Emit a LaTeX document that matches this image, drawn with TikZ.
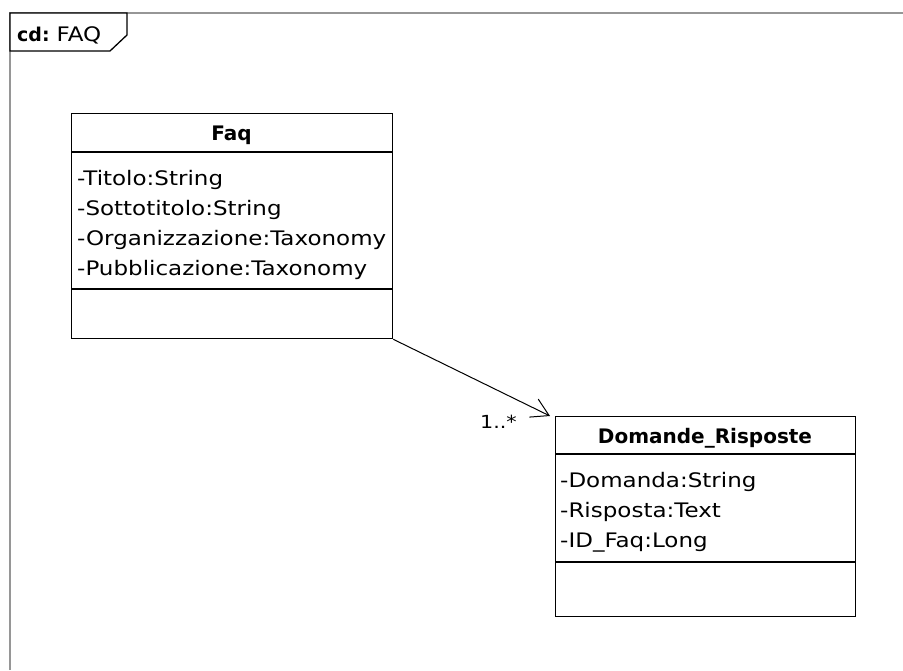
\documentclass[tikz,border=0pt]{standalone}
\usepackage{fontspec}
\setmainfont[FakeStretch=1.15]{DejaVu Sans}
\newfontfamily\titlefont{DejaVu Sans}
\usetikzlibrary{arrows.meta}
\definecolor{framegray}{RGB}{150,150,150}
\tikzset{
  classbox/.style={draw=black, line width=1.3pt, fill=white, inner sep=0pt},
  sepline/.style={draw=black, line width=1.3pt},
  attr/.style={anchor=base west, inner sep=0pt, font=\fontsize{20}{24}\selectfont},
  ctitle/.style={anchor=base, inner sep=0pt, font=\titlefont\bfseries\fontsize{20}{24}\selectfont},
  assoc/.style={draw=black, line width=1pt, -{Straight Barb[length=17pt,width=20pt,line width=1pt]}},
}
\begin{document}
\begin{tikzpicture}[x=1pt,y=-1pt]
\useasboundingbox (0,0) rectangle (903,670);
% frame
\draw[framegray, line width=1.3pt] (10,670) -- (10,13) -- (903,13);
\draw[black, line width=1.3pt, fill=white] (10,13) -- (127,13) -- (127,35) -- (110,51) -- (10,51) -- cycle;
\node[anchor=base west, inner sep=0pt] (frametitle) at (17,41) {{\titlefont\bfseries\fontsize{19}{23}\selectfont cd:}\hspace{7pt}{\fontsize{20}{24}\selectfont FAQ}};
% Faq class
\node[classbox, anchor=north west, minimum width=321pt, minimum height=225pt] (faq) at (71,113) {};
\draw[sepline] (71,152) -- (392,152);
\draw[sepline] (71,289) -- (392,289);
\node[ctitle] (faqt) at (231.5,140) {Faq};
\node[attr] (fa1) at (77,185) {-Titolo:String};
\node[attr] (fa2) at (77,215) {-Sottotitolo:String};
\node[attr] (fa3) at (77,245) {-Organizzazione:Taxonomy};
\node[attr] (fa4) at (77,275) {-Pubblicazione:Taxonomy};
% Domande_Risposte class
\node[classbox, anchor=north west, minimum width=300pt, minimum height=200pt] (dr) at (555,416) {};
\draw[sepline] (555,454) -- (855,454);
\draw[sepline] (555,562) -- (855,562);
\node[ctitle] (drt) at (705,443) {Domande\_Risposte};
\node[attr] (da1) at (560,487) {-Domanda:String};
\node[attr] (da2) at (560,517) {-Risposta:Text};
\node[attr] (da3) at (560,547) {-ID\_Faq:Long};
% association
\coordinate (tip) at (550,416);
\draw[assoc] (faq.south east) -- (tip);
\node[anchor=base east, inner sep=0pt, font=\fontsize{18}{22}\selectfont] (mult) at (517,428) {1..*};
\end{tikzpicture}
\end{document}
